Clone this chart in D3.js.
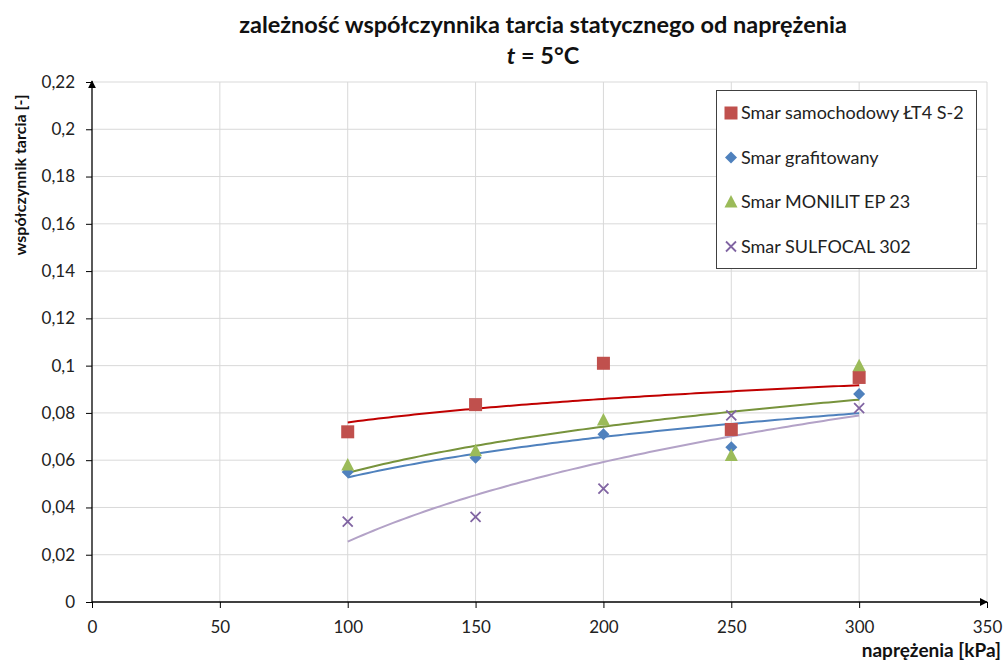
<!DOCTYPE html>
<html><head><meta charset="utf-8">
<script src="https://cdn.jsdelivr.net/npm/d3@7"></script>
<style>body{margin:0;background:#fff}svg{display:block}text{font-family:Lato,"Open Sans",sans-serif}</style>
</head><body><svg id="c" width="1006" height="664"></svg>
<script>
const xValues = [100, 150, 200, 250, 300];
const seriesNames = ["Smar samochodowy ŁT4 S-2", "Smar grafitowany", "Smar MONILIT EP 23", "Smar SULFOCAL 302"];
const redValues = [0.072, 0.0835, 0.101, 0.073, 0.095];
const blueValues = [0.055, 0.061, 0.071, 0.0655, 0.088];
const greenValues = [0.058, 0.064, 0.077, 0.062, 0.100];
const purpleValues = [0.034, 0.036, 0.048, 0.079, 0.082];
const xTicks = [0, 50, 100, 150, 200, 250, 300, 350];
const yTicks = [0, 0.02, 0.04, 0.06, 0.08, 0.1, 0.12, 0.14, 0.16, 0.18, 0.2, 0.22];

const series = [
  {name: seriesNames[0], values: redValues, color: "#C0504D", line: "#C00000", shape: "square"},
  {name: seriesNames[1], values: blueValues, color: "#4F81BD", line: "#4F81BD", shape: "diamond"},
  {name: seriesNames[2], values: greenValues, color: "#9BBB59", line: "#77933C", shape: "triangle"},
  {name: seriesNames[3], values: purpleValues, color: "#8064A2", line: "#B3A2C7", shape: "x"}
];

const svg = d3.select("#c");
const x = d3.scaleLinear().domain([0, 350]).range([92, 987]);
const y = d3.scaleLinear().domain([0, 0.22]).range([602, 82]);
const fmt = v => String(v).replace(".", ",");

// gridlines
svg.append("g").selectAll("line").data(yTicks.slice(1)).join("line")
  .attr("x1", x(0)).attr("x2", x(350)).attr("y1", d => y(d)).attr("y2", d => y(d))
  .attr("stroke", "#d9d9d9").attr("stroke-width", 1);
svg.append("g").selectAll("line").data(xTicks.slice(1)).join("line")
  .attr("x1", d => x(d)).attr("x2", d => x(d)).attr("y1", y(0)).attr("y2", y(0.22))
  .attr("stroke", "#d9d9d9").attr("stroke-width", 1);

// axes
const yAxis = d3.axisLeft(y).tickValues(yTicks).tickFormat(fmt).tickSize(6).tickPadding(11);
const gy = svg.append("g").attr("transform", `translate(${x(0)},0)`).call(yAxis);
gy.select(".domain").remove();
gy.selectAll("text").attr("font-size", 17).attr("fill", "#222");
gy.selectAll("line").attr("stroke", "#000");
const xAxis = d3.axisBottom(x).tickValues(xTicks).tickFormat(fmt).tickSize(6).tickPadding(13);
const gx = svg.append("g").attr("transform", `translate(0,${y(0)})`).call(xAxis);
gx.select(".domain").remove();
gx.selectAll("text").attr("font-size", 17).attr("fill", "#222");
gx.selectAll("line").attr("stroke", "#000");

svg.append("defs").append("marker").attr("id", "arr").attr("viewBox", "0 0 10 10")
  .attr("refX", 9).attr("refY", 5).attr("markerWidth", 8).attr("markerHeight", 8)
  .attr("orient", "auto").attr("markerUnits", "userSpaceOnUse")
  .append("path").attr("d", "M0,0L10,5L0,10z").attr("fill", "#000");
svg.append("line").attr("x1", x(0)).attr("x2", x(0)).attr("y1", y(0)).attr("y2", y(0.22) - 1)
  .attr("stroke", "#000").attr("stroke-width", 1.3).attr("marker-end", "url(#arr)");
svg.append("line").attr("x1", x(0)).attr("x2", x(350)).attr("y1", y(0)).attr("y2", y(0))
  .attr("stroke", "#000").attr("stroke-width", 1.3).attr("marker-end", "url(#arr)");

// logarithmic trendlines (least squares on ln x)
function logFit(xs, ys) {
  const lx = xs.map(Math.log);
  const mx = d3.mean(lx), my = d3.mean(ys);
  const b = d3.sum(lx, (v, i) => (v - mx) * (ys[i] - my)) / d3.sum(lx, v => (v - mx) ** 2);
  const a = my - b * mx;
  return v => a + b * Math.log(v);
}
const samples = d3.range(100, 300.01, 2);
const line = d3.line().x(d => x(d[0])).y(d => y(d[1]));
series.forEach(s => {
  const f = logFit(xValues, s.values);
  svg.append("path").datum(samples.map(v => [v, f(v)])).attr("d", line)
    .attr("fill", "none").attr("stroke", s.line).attr("stroke-width", 2);
});

function drawMarker(g, shape, color, cx, cy) {
  if (shape === "square") g.append("rect").attr("x", cx - 6.5).attr("y", cy - 6.5).attr("width", 13).attr("height", 13).attr("fill", color);
  else if (shape === "diamond") g.append("path").attr("d", `M${cx},${cy-6}L${cx+6},${cy}L${cx},${cy+6}L${cx-6},${cy}Z`).attr("fill", color);
  else if (shape === "triangle") g.append("path").attr("d", `M${cx},${cy-7}L${cx+6.5},${cy+5.5}L${cx-6.5},${cy+5.5}Z`).attr("fill", color);
  else g.append("path").attr("d", `M${cx-5},${cy-5}L${cx+5},${cy+5}M${cx-5},${cy+5}L${cx+5},${cy-5}`).attr("stroke", color).attr("stroke-width", 1.8);
}
const mg = svg.append("g");
series.forEach(s => {
  s.values.forEach((v, i) => drawMarker(mg, s.shape, s.color, x(xValues[i]), y(v)));
});

// legend
const lg = svg.append("g");
lg.append("rect").attr("x", 716.5).attr("y", 90.5).attr("width", 260).attr("height", 178)
  .attr("fill", "#fff").attr("stroke", "#404040").attr("stroke-width", 1);
series.forEach((s, i) => {
  const cy = 113 + i * 44.5;
  drawMarker(lg, s.shape, s.color, 731, cy);
  lg.append("text").attr("x", 741).attr("y", cy + 6).attr("font-size", 18).attr("fill", "#222").text(s.name);
});

// titles
svg.append("text").attr("x", 543).attr("y", 33).attr("text-anchor", "middle").attr("font-size", 23.5)
  .attr("font-weight", "bold").attr("fill", "#111").text("zależność współczynnika tarcia statycznego od naprężenia");
const t2 = svg.append("text").attr("x", 543).attr("y", 64).attr("text-anchor", "middle").attr("font-size", 23.5)
  .attr("font-weight", "bold").attr("fill", "#111");
t2.append("tspan").attr("font-style", "italic").text("t");
t2.append("tspan").text(" = 5°C");
svg.append("text").attr("transform", "translate(26,175) rotate(-90)").attr("text-anchor", "middle")
  .attr("font-size", 16).attr("font-weight", "bold").attr("fill", "#111").text("współczynnik tarcia [-]");
svg.append("text").attr("x", 1001).attr("y", 657).attr("text-anchor", "end")
  .attr("font-size", 19).attr("font-weight", "bold").attr("fill", "#111").text("naprężenia [kPa]");
</script></body></html>
